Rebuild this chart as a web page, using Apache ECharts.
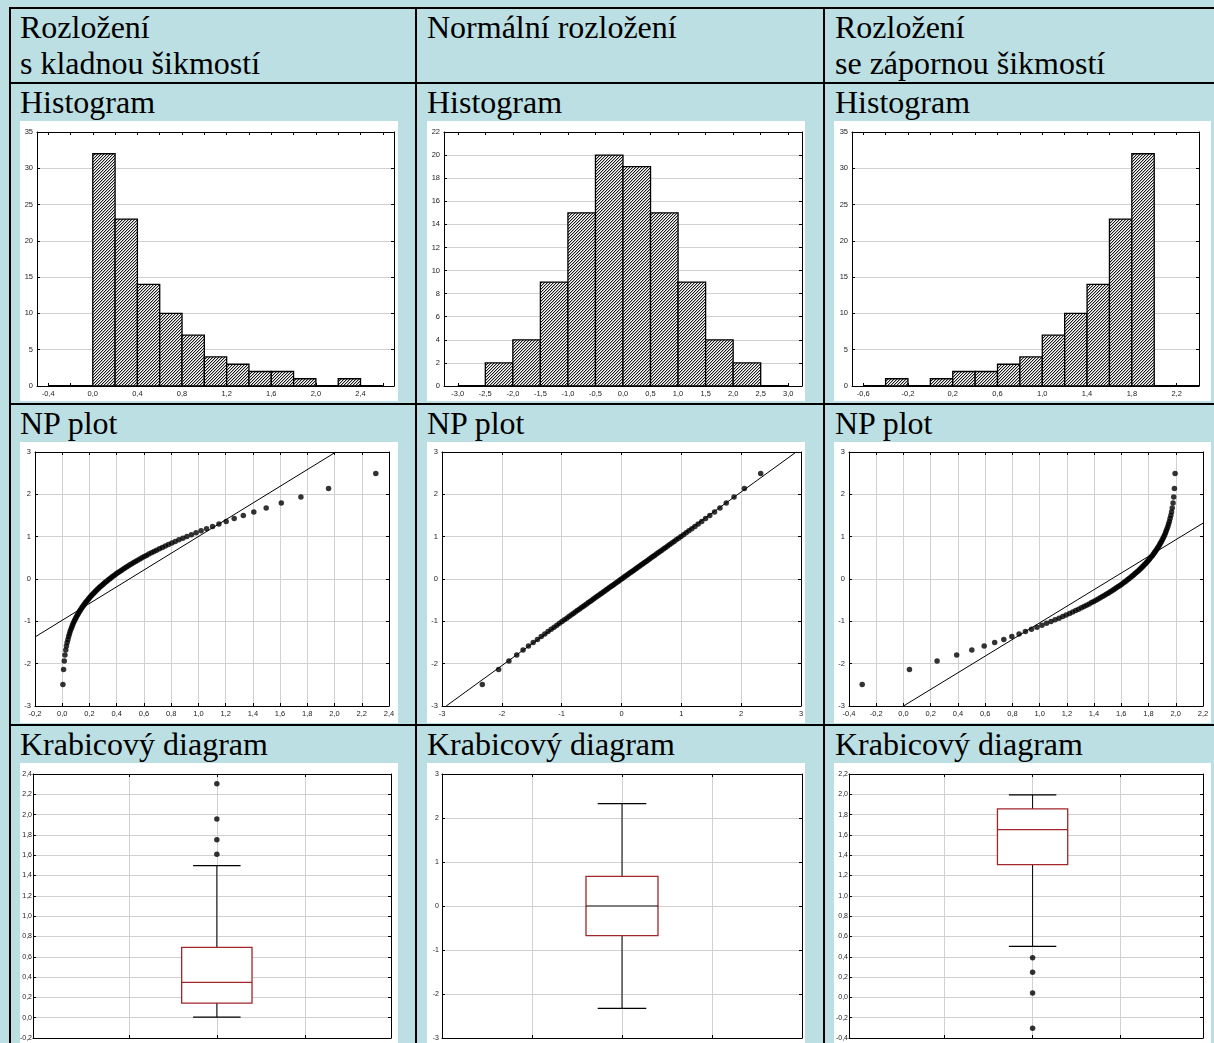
<!DOCTYPE html>
<html>
<head>
<meta charset="utf-8">
<script src="https://cdn.jsdelivr.net/npm/echarts@6/dist/echarts.min.js"></script>
<style>
  html, body { margin:0; padding:0; }
  body { width:1214px; height:1043px; overflow:hidden; position:relative; background:#bbdfe2;
         font-family:"Liberation Serif","Times New Roman",serif; }
  .hl { position:absolute; background:#000; height:2px; }
  .vl { position:absolute; background:#000; width:2px; }
  .t  { position:absolute; font-size:32px; line-height:32px; color:#000; white-space:nowrap; }
  .p  { position:absolute; background:#fff; }
</style>
</head>
<body>
<!-- table rules -->
<div class="hl" style="left:9px;top:7px;width:1205px"></div>
<div class="hl" style="left:9px;top:82px;width:1205px"></div>
<div class="hl" style="left:9px;top:403px;width:1205px"></div>
<div class="hl" style="left:9px;top:724px;width:1205px"></div>
<div class="vl" style="left:9px;top:7px;height:1036px"></div>
<div class="vl" style="left:415px;top:7px;height:1036px"></div>
<div class="vl" style="left:823px;top:7px;height:1036px"></div>

<!-- headings -->
<div class="t" style="left:20px;top:11px">Rozložení</div>
<div class="t" style="left:20px;top:47px">s kladnou šikmostí</div>
<div class="t" style="left:427px;top:11px">Normální rozložení</div>
<div class="t" style="left:835px;top:11px">Rozložení</div>
<div class="t" style="left:835px;top:47px">se zápornou šikmostí</div>

<div class="t" style="left:20px;top:86px">Histogram</div>
<div class="t" style="left:427px;top:86px">Histogram</div>
<div class="t" style="left:835px;top:86px">Histogram</div>
<div class="t" style="left:20px;top:407px">NP plot</div>
<div class="t" style="left:427px;top:407px">NP plot</div>
<div class="t" style="left:835px;top:407px">NP plot</div>
<div class="t" style="left:20px;top:728px">Krabicový diagram</div>
<div class="t" style="left:427px;top:728px">Krabicový diagram</div>
<div class="t" style="left:835px;top:728px">Krabicový diagram</div>

<div id="h1" class="p" style="left:20px;top:121px;width:378px;height:280px"></div>
<div id="h2" class="p" style="left:427px;top:121px;width:378px;height:280px"></div>
<div id="h3" class="p" style="left:834px;top:121px;width:377px;height:280px"></div>
<div id="n1" class="p" style="left:20px;top:442px;width:378px;height:281px"></div>
<div id="n2" class="p" style="left:427px;top:442px;width:378px;height:281px"></div>
<div id="n3" class="p" style="left:834px;top:442px;width:377px;height:281px"></div>
<div id="b1" class="p" style="left:20px;top:763px;width:378px;height:280px"></div>
<div id="b2" class="p" style="left:427px;top:763px;width:378px;height:280px"></div>
<div id="b3" class="p" style="left:834px;top:763px;width:377px;height:280px"></div>

<script>
// ---- sorted samples (n = 99) ----
const skewPos = [
  0.005,0.010,0.015,0.020,0.026,0.031,0.036,0.042,0.047,0.053,
  0.058,0.064,0.070,0.075,0.081,0.087,0.093,0.099,0.105,0.112,
  0.118,0.124,0.131,0.137,0.144,0.151,0.157,0.164,0.171,0.178,
  0.186,0.193,0.200,0.208,0.215,0.223,0.231,0.239,0.247,0.255,
  0.264,0.272,0.281,0.290,0.299,0.308,0.317,0.327,0.337,0.347,
  0.357,0.367,0.378,0.388,0.399,0.410,0.422,0.434,0.446,0.458,
  0.471,0.484,0.497,0.511,0.525,0.539,0.554,0.570,0.586,0.602,
  0.619,0.636,0.655,0.674,0.693,0.714,0.735,0.757,0.780,0.805,
  0.830,0.857,0.886,0.916,0.949,0.983,1.020,1.060,1.104,1.151,
  1.204,1.263,1.330,1.407,1.498,1.609,1.753,1.956,2.303
];
const normalSample = [
  -2.326,-2.054,-1.881,-1.751,-1.645,-1.555,-1.476,-1.405,-1.341,-1.282,
  -1.227,-1.175,-1.126,-1.080,-1.036,-0.994,-0.954,-0.915,-0.878,-0.842,
  -0.806,-0.772,-0.739,-0.706,-0.674,-0.643,-0.613,-0.583,-0.553,-0.524,
  -0.496,-0.468,-0.440,-0.412,-0.385,-0.358,-0.332,-0.305,-0.279,-0.253,
  -0.228,-0.202,-0.176,-0.151,-0.126,-0.100,-0.075,-0.050,-0.025,0.000,
  0.025,0.050,0.075,0.100,0.126,0.151,0.176,0.202,0.228,0.253,
  0.279,0.305,0.332,0.358,0.385,0.412,0.440,0.468,0.496,0.524,
  0.553,0.583,0.613,0.643,0.674,0.706,0.739,0.772,0.806,0.842,
  0.878,0.915,0.954,0.994,1.036,1.080,1.126,1.175,1.227,1.282,
  1.341,1.405,1.476,1.555,1.645,1.751,1.881,2.054,2.326
];
const skewNeg = [
  -0.303,0.044,0.247,0.391,0.502,0.593,0.670,0.737,0.796,0.849,
  0.896,0.940,0.980,1.017,1.051,1.084,1.114,1.143,1.170,1.195,
  1.220,1.243,1.265,1.286,1.307,1.326,1.345,1.364,1.381,1.398,
  1.414,1.430,1.446,1.461,1.475,1.489,1.503,1.516,1.529,1.542,
  1.554,1.566,1.578,1.590,1.601,1.612,1.622,1.633,1.643,1.653,
  1.663,1.673,1.683,1.692,1.701,1.710,1.719,1.728,1.736,1.745,
  1.753,1.761,1.769,1.777,1.785,1.792,1.800,1.807,1.814,1.822,
  1.829,1.836,1.843,1.849,1.856,1.863,1.869,1.876,1.882,1.888,
  1.895,1.901,1.907,1.913,1.919,1.925,1.930,1.936,1.942,1.947,
  1.953,1.958,1.964,1.969,1.974,1.980,1.985,1.990,1.995
];
// expected normal values for ranks 1..99 (vertical axis of the NP plots)
const normScores = [
  -2.495,-2.135,-1.936,-1.793,-1.679,-1.583,-1.500,-1.427,-1.360,-1.299,
  -1.242,-1.189,-1.140,-1.093,-1.048,-1.005,-0.964,-0.925,-0.887,-0.850,
  -0.814,-0.779,-0.746,-0.713,-0.680,-0.649,-0.618,-0.588,-0.558,-0.529,
  -0.500,-0.472,-0.444,-0.416,-0.388,-0.361,-0.334,-0.308,-0.282,-0.255,
  -0.229,-0.203,-0.178,-0.152,-0.127,-0.101,-0.076,-0.051,-0.025,0.000,
  0.025,0.051,0.076,0.101,0.127,0.152,0.178,0.203,0.229,0.255,
  0.282,0.308,0.334,0.361,0.388,0.416,0.444,0.472,0.500,0.529,
  0.558,0.588,0.618,0.649,0.680,0.713,0.746,0.779,0.814,0.850,
  0.887,0.925,0.964,1.005,1.048,1.093,1.140,1.189,1.242,1.299,
  1.360,1.427,1.500,1.583,1.679,1.793,1.936,2.135,2.495
];

// ---- histograms: bin lower edges and counts ----
const hist1Edges  = [-0.4,-0.2,0.0,0.2,0.4,0.6,0.8,1.0,1.2,1.4,1.6,1.8,2.0,2.2,2.4];
const hist1Counts = [0,0,32,23,14,10,7,4,3,2,2,1,0,1,0];
const hist1Width  = 0.2;
const hist2Edges  = [-3.0,-2.5,-2.0,-1.5,-1.0,-0.5,0.0,0.5,1.0,1.5,2.0,2.5];
const hist2Counts = [0,2,4,9,15,20,19,15,9,4,2,0];
const hist2Width  = 0.5;
const hist3Edges  = [-0.6,-0.4,-0.2,0.0,0.2,0.4,0.6,0.8,1.0,1.2,1.4,1.6,1.8,2.0,2.2];
const hist3Counts = [0,1,0,1,2,2,3,4,7,10,14,23,32,0,0];
const hist3Width  = 0.2;

// ---- tick positions and labels ----
const hist1XTicks  = [-0.4,-0.2,0,0.2,0.4,0.6,0.8,1.0,1.2,1.4,1.6,1.8,2.0,2.2,2.4,2.6];
const hist1XLabels = [-0.4,0,0.4,0.8,1.2,1.6,2.0,2.4];
const hist2XTicks  = [-3,-2.5,-2,-1.5,-1,-0.5,0,0.5,1,1.5,2,2.5,3];
const hist3XTicks  = [-0.6,-0.4,-0.2,0,0.2,0.4,0.6,0.8,1.0,1.2,1.4,1.6,1.8,2.0,2.2,2.4];
const hist3XLabels = [-0.6,-0.2,0.2,0.6,1.0,1.4,1.8,2.2];
const boxXTicks    = [1,2,3];

// ---- NP reference lines (end points) ----
const npLine1 = [[-0.2,-1.37],[2.01,3]];
const npLine2 = [[-2.93,-3],[2.92,3]];
const npLine3 = [[0.0,-3],[2.2,1.32]];

// ---- box plots: [lower whisker, Q1, median, Q3, upper whisker] and outliers ----
const box1Stats = [0.005,0.144,0.347,0.693,1.498];
const box1Outliers = [1.609,1.753,1.956,2.303];
const box2Stats = [-2.326,-0.674,0.0,0.674,2.326];
const box2Outliers = [];
const box3Stats = [0.502,1.307,1.653,1.856,1.995];
const box3Outliers = [-0.303,0.044,0.247,0.391];

const SANS = '"Liberation Sans", Arial, sans-serif';
const fmtDec = v => (Math.round(v * 10) / 10).toFixed(1).replace('.', ',').replace('-0,0', '0,0');
const fmtInt = v => String(Math.round(v));

// fine "////" hatching used to fill the histogram bars
function makeHatch() {
  const c = document.createElement('canvas');
  c.width = 3; c.height = 3;
  const g = c.getContext('2d');
  g.fillStyle = '#ffffff'; g.fillRect(0, 0, 3, 3);
  for (let i = 0; i < 3; i++) {
    g.fillStyle = '#1c1c1c'; g.fillRect(i, 2 - i, 1, 1);
    g.fillStyle = '#b4b4b4'; g.fillRect(i, (3 - i) % 3, 1, 1);
  }
  return c;
}
const hatch = { image: makeHatch(), repeat: 'repeat' };

function axis(o) {
  const a = {
    type: 'value', min: o.min, max: o.max, position: o.pos,
    axisLine: { show: true, onZero: false, lineStyle: { color: '#000', width: 1 } },
    axisTick: { show: true, inside: true, length: 3, lineStyle: { color: '#000', width: 1 } },
    axisLabel: { show: !o.hideLabel, fontSize: o.fs || 8, color: '#222', fontFamily: SANS,
                 margin: o.margin != null ? o.margin : 4,
                 formatter: o.fmt, showMinLabel: true, showMaxLabel: true, hideOverlap: false },
    splitLine: { show: !!o.split, lineStyle: { color: '#d0d0d0', width: 1 } },
    minorTick: { show: false }, minorSplitLine: { show: false }
  };
  if (o.interval != null) a.interval = o.interval;
  if (o.ticks) a.axisTick.customValues = o.ticks;
  if (o.labels) a.axisLabel.customValues = o.labels;
  return a;
}

function option(grid, xo, yo, series) {
  return {
    animation: false,
    grid: { left: grid[0], top: grid[1], right: grid[2], bottom: grid[3],
            containLabel: false, outerBoundsMode: 'none' },
    xAxis: [axis(Object.assign({}, xo, { pos: 'bottom' })),
            axis(Object.assign({}, xo, { pos: 'top', hideLabel: true, split: false }))],
    yAxis: [axis(Object.assign({}, yo, { pos: 'left' })),
            axis(Object.assign({}, yo, { pos: 'right', hideLabel: true, split: false }))],
    series: series
  };
}

function histSeries(edges, counts, width) {
  return {
    type: 'custom', clip: false,
    data: edges.map((e, i) => [e, e + width, counts[i]]),
    encode: { x: [0, 1], y: 2 },
    renderItem(params, api) {
      const a = api.coord([api.value(0), 0]);
      const b = api.coord([api.value(1), api.value(2)]);
      if (api.value(2) === 0) {
        return { type: 'line', shape: { x1: a[0], y1: a[1], x2: b[0], y2: a[1] },
                 style: { stroke: '#000', lineWidth: 2 } };
      }
      return { type: 'rect', shape: { x: a[0], y: b[1], width: b[0] - a[0], height: a[1] - b[1] },
               style: { fill: hatch, stroke: '#000', lineWidth: 1.3 } };
    }
  };
}

function npSeries(xs, line) {
  return [
    { type: 'line', data: line, showSymbol: false, silent: true,
      lineStyle: { color: '#000', width: 1 }, z: 2 },
    { type: 'scatter', data: xs.map((x, i) => [x, normScores[i]]), symbol: 'circle',
      symbolSize: 5.5, itemStyle: { color: '#000' }, z: 3 }
  ];
}

const BOX_AT = 2;
function boxSeries(stats, outliers, medianColor) {
  return [
    {
      type: 'custom', data: [[BOX_AT].concat(stats)], z: 2,
      renderItem(params, api) {
        const cx = api.value(0);
        const pt = k => api.coord([cx, api.value(k)]);
        const lo = pt(1), q1 = pt(2), md = pt(3), q3 = pt(4), hi = pt(5);
        const half = api.size([0.4, 0])[0];
        const cap = api.size([0.27, 0])[0];
        const x = lo[0];
        const ln = (x1, y1, x2, y2, c, w) => ({ type: 'line', shape: { x1, y1, x2, y2 }, style: { stroke: c, lineWidth: w } });
        return { type: 'group', children: [
          ln(x, hi[1], x, q3[1], '#000', 1),
          ln(x, q1[1], x, lo[1], '#000', 1),
          ln(x - cap, hi[1], x + cap, hi[1], '#000', 1.2),
          ln(x - cap, lo[1], x + cap, lo[1], '#000', 1.2),
          { type: 'rect', shape: { x: x - half, y: q3[1], width: 2 * half, height: q1[1] - q3[1] },
            style: { fill: '#fff', stroke: '#a3262a', lineWidth: 1.3 } },
          ln(x - half, md[1], x + half, md[1], medianColor, 1.2)
        ]};
      }
    },
    { type: 'scatter', data: outliers.map(v => [BOX_AT, v]), symbolSize: 5.5,
      itemStyle: { color: '#000' }, z: 3 }
  ];
}

function draw(id, opt) {
  const chart = echarts.init(document.getElementById(id), null, { renderer: 'canvas' });
  chart.setOption(opt);
}

// histograms
draw('h1', option([17, 11, 4, 15],
  { min: -0.5, max: 2.7, ticks: hist1XTicks, labels: hist1XLabels, fmt: fmtDec, fs: 7.5 },
  { min: 0, max: 35, interval: 5, fmt: fmtInt, split: true, fs: 7.5, margin: 4 },
  [histSeries(hist1Edges, hist1Counts, hist1Width)]));
draw('h2', option([17, 11, 3, 15],
  { min: -3.25, max: 3.25, ticks: hist2XTicks, labels: hist2XTicks, fmt: fmtDec, fs: 7.5 },
  { min: 0, max: 22, interval: 2, fmt: fmtInt, split: true, fs: 7.5, margin: 4 },
  [histSeries(hist2Edges, hist2Counts, hist2Width)]));
draw('h3', option([18, 11, 12, 15],
  { min: -0.7, max: 2.4, ticks: hist3XTicks, labels: hist3XLabels, fmt: fmtDec, fs: 7.5 },
  { min: 0, max: 35, interval: 5, fmt: fmtInt, split: true, fs: 7.5, margin: 4 },
  [histSeries(hist3Edges, hist3Counts, hist3Width)]));

// normal probability plots
draw('n1', option([15, 10, 9, 17],
  { min: -0.2, max: 2.4, interval: 0.2, fmt: fmtDec, split: true, fs: 7.5 },
  { min: -3, max: 3, interval: 1, fmt: fmtInt, split: true, fs: 7.5, margin: 4 },
  npSeries(skewPos, npLine1)));
draw('n2', option([15, 10, 4, 17],
  { min: -3, max: 3, interval: 1, fmt: fmtInt, split: true, fs: 7.5 },
  { min: -3, max: 3, interval: 1, fmt: fmtInt, split: true, fs: 7.5, margin: 4 },
  npSeries(normalSample, npLine2)));
draw('n3', option([15, 10, 8, 17],
  { min: -0.4, max: 2.2, interval: 0.2, fmt: fmtDec, split: true, fs: 7.5 },
  { min: -3, max: 3, interval: 1, fmt: fmtInt, split: true, fs: 7.5, margin: 4 },
  npSeries(skewNeg, npLine3)));

// box plots
draw('b1', option([13, 11, 7, 5],
  { min: -0.09, max: 3.98, ticks: boxXTicks, labels: [], hideLabel: true, split: true },
  { min: -0.2, max: 2.4, interval: 0.2, fmt: fmtDec, split: true, fs: 7, margin: 1 },
  boxSeries(box1Stats, box1Outliers, '#a3262a')));
draw('b2', option([15, 11, 3, 5],
  { min: 0, max: 4, interval: 1, hideLabel: true, split: true },
  { min: -3, max: 3, interval: 1, fmt: fmtInt, split: true, fs: 7, margin: 3 },
  boxSeries(box2Stats, box2Outliers, '#000')));
draw('b3', option([15, 11, 8, 5],
  { min: -0.09, max: 3.94, ticks: boxXTicks, labels: [], hideLabel: true, split: true },
  { min: -0.4, max: 2.2, interval: 0.2, fmt: fmtDec, split: true, fs: 7, margin: 1 },
  boxSeries(box3Stats, box3Outliers, '#a3262a')));
</script>
</body>
</html>
